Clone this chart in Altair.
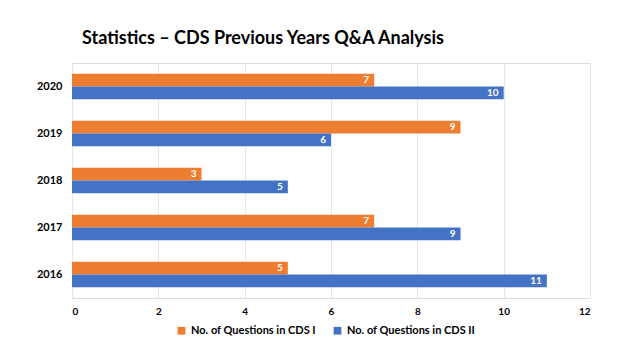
import altair as alt
import pandas as pd

years = ["2016", "2017", "2018", "2019", "2020"]
cds1 = [5, 7, 3, 9, 7]
cds2 = [11, 9, 5, 6, 10]
series = ["No. of Questions in CDS I", "No. of Questions in CDS II"]
colors = ["#ED7D31", "#4472C4"]
x_ticks = [0, 2, 4, 6, 8, 10, 12]

rows = []
for y, a, b in zip(years, cds1, cds2):
    rows.append({"year": y, "series": series[0], "value": a})
    rows.append({"year": y, "series": series[1], "value": b})
df = pd.DataFrame(rows)

FONT = "Lato"
order_years = list(reversed(years))

base = alt.Chart(df).encode(
    y=alt.Y("year:N", sort=order_years, title=None,
            scale=alt.Scale(paddingInner=0.46, paddingOuter=0.23),
            axis=alt.Axis(labelFontWeight="bold", labelFontSize=11, labelColor="#000",
                          labelFont=FONT, ticks=False, domain=False, labelPadding=10)),
    yOffset=alt.YOffset("series:N", sort=series),
)

bars = base.mark_bar().encode(
    x=alt.X("value:Q", title=None,
            scale=alt.Scale(domain=[0, 12]),
            axis=alt.Axis(values=x_ticks, grid=True, gridColor="#E6E6E6", ticks=False,
                          domain=False, labelFontWeight="bold", labelFontSize=10,
                          labelColor="#000", labelFont=FONT, labelPadding=8)),
    color=alt.Color("series:N", sort=series, title=None,
                    scale=alt.Scale(domain=series, range=colors),
                    legend=alt.Legend(orient="none", legendX=104, legendY=262,
                                      direction="horizontal", symbolType="square",
                                      symbolSize=60, labelFontWeight="bold",
                                      labelFontSize=11, labelFont=FONT, labelColor="#000",
                                      columnPadding=16, symbolStrokeWidth=0)),
)

labels = base.mark_text(align="right", dx=-5, color="white", fontWeight="bold",
                        fontSize=10, font=FONT, baseline="middle").encode(
    x="value:Q",
    text="value:Q",
)

chart = (bars + labels).properties(
    width=518,
    height=235,
    autosize=alt.AutoSizeParams(type="none"),
    padding={"left": 64, "top": 55, "right": 38, "bottom": 46},
    title=alt.TitleParams("Statistics – CDS Previous Years Q&A Analysis", anchor="start",
                          frame="group", fontSize=18, fontWeight="bold", font=FONT,
                          color="#000", dx=10, offset=15),
).configure_view(stroke=None).configure(background="white")

chart.save("out.html", embed_options={"renderer": "svg", "actions": False})
